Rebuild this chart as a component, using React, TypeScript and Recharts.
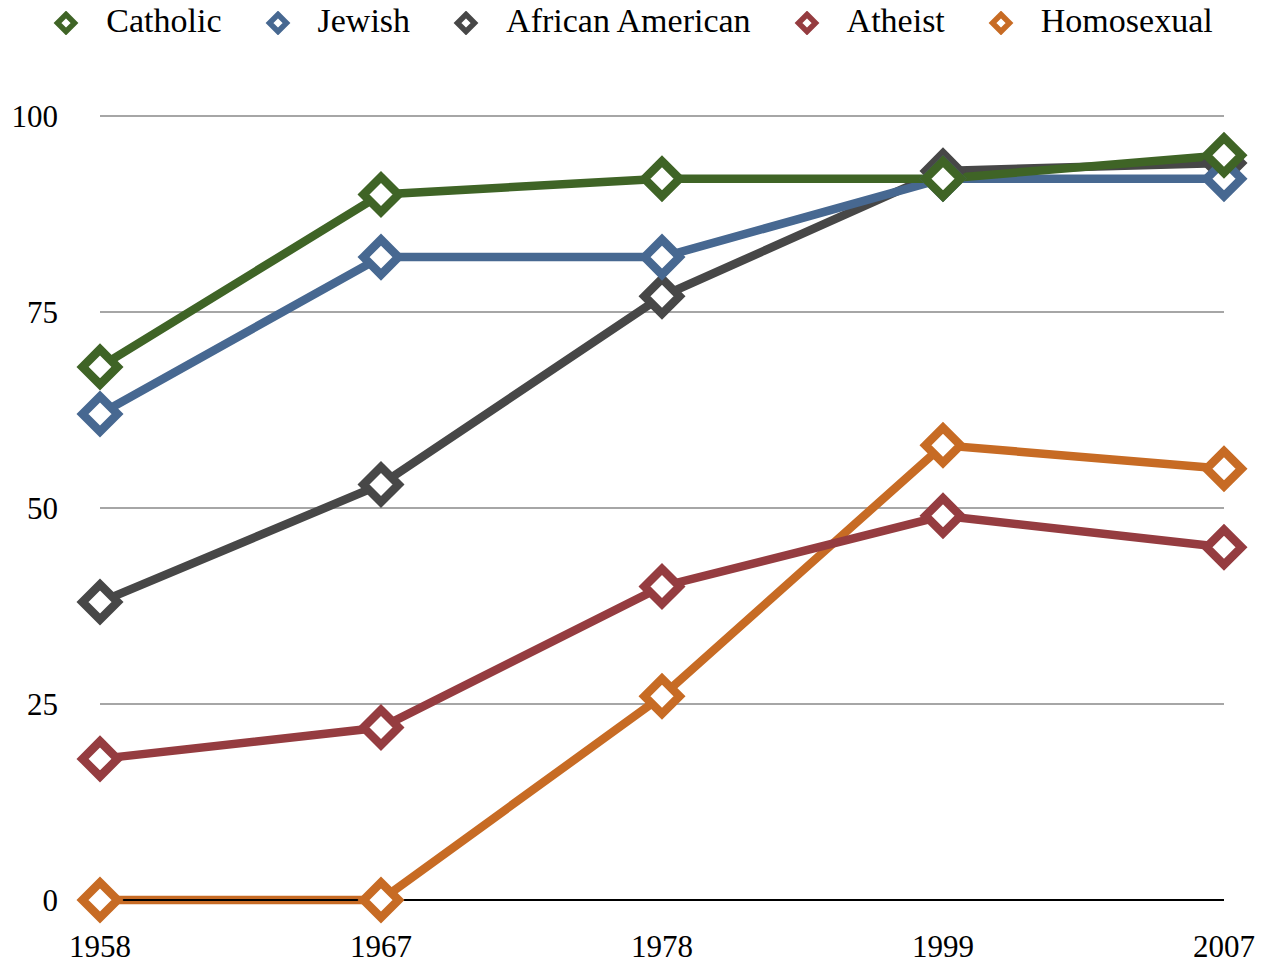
import React from 'react';
import { LineChart, Line, XAxis, YAxis, CartesianGrid } from 'recharts';

const years = ['1958', '1967', '1978', '1999', '2007'];
const catholic = [68, 90, 92, 92, 95];
const jewish = [62, 82, 82, 92, 92];
const africanAmerican = [38, 53, 77, 93, 94];
const atheist = [18, 22, 40, 49, 45];
const homosexual = [0, 0, 26, 58, 55];
const yTicks = [0, 25, 50, 75, 100];

const FONT = '"Liberation Serif", "Times New Roman", serif';

const SERIES = [
  { key: 'catholic', name: 'Catholic', color: '#3f6426', values: catholic },
  { key: 'jewish', name: 'Jewish', color: '#476891', values: jewish },
  { key: 'african', name: 'African American', color: '#474747', values: africanAmerican },
  { key: 'atheist', name: 'Atheist', color: '#953c40', values: atheist },
  { key: 'homosexual', name: 'Homosexual', color: '#c76b24', values: homosexual },
];

const data = years.map((year, i) => {
  const row: Record<string, string | number> = { year };
  SERIES.forEach((s) => {
    row[s.key] = s.values[i];
  });
  return row;
});

function diamond(cx: number, cy: number, r: number) {
  return `M${cx},${cy - r}L${cx + r},${cy}L${cx},${cy + r}L${cx - r},${cy}Z`;
}

function makeDot(color: string) {
  return (props: any) => {
    const { cx, cy, index } = props;
    if (cx == null || cy == null) return <g key={index} />;
    return (
      <path
        key={index}
        d={diamond(cx, cy, 17.5)}
        fill="#fff"
        stroke={color}
        strokeWidth={8.5}
        strokeLinejoin="miter"
      />
    );
  };
}

function LegendRow() {
  return (
    <div
      style={{
        position: 'absolute',
        top: 1,
        left: 0,
        width: 1265,
        display: 'flex',
        justifyContent: 'center',
        gap: 42,
        fontFamily: FONT,
        fontSize: 34,
        lineHeight: '40px',
        color: '#000',
      }}
    >
      {SERIES.map((s) => (
        <div key={s.key} style={{ display: 'flex', alignItems: 'center' }}>
          <svg width={28} height={24} style={{ marginRight: 26, marginTop: 3 }}>
            <path d={diamond(14, 12, 8.5)} fill="#fff" stroke={s.color} strokeWidth={5.5} />
          </svg>
          <span>{s.name}</span>
        </div>
      ))}
    </div>
  );
}

export default function App() {
  const drawOrder = [...SERIES].reverse();
  return (
    <div style={{ position: 'absolute', left: 0, top: 0, width: 1265, height: 964, background: '#fff' }}>
      <LegendRow />
      <LineChart
        width={1265}
        height={964}
        data={data}
        margin={{ top: 116, right: 41, bottom: 0, left: 0 }}
      >
        <CartesianGrid vertical={false} stroke="#a6a6a6" strokeWidth={2} />
        <XAxis
          dataKey="year"
          height={64}
          tickLine={false}
          tickSize={0}
          tickMargin={35}
          axisLine={{ stroke: '#000', strokeWidth: 2 }}
          tick={{ fill: '#000', fontSize: 31, fontFamily: FONT }}
          interval={0}
        />
        <YAxis
          width={100}
          domain={[0, 100]}
          ticks={yTicks}
          axisLine={false}
          tickLine={false}
          tickSize={0}
          tickMargin={42}
          tick={{ fill: '#000', fontSize: 31, fontFamily: FONT }}
        />
        {drawOrder.map((s) => (
          <Line
            key={s.key}
            dataKey={s.key}
            name={s.name}
            stroke={s.color}
            strokeWidth={8.5}
            type="linear"
            dot={makeDot(s.color)}
            activeDot={false}
            isAnimationActive={false}
          />
        ))}
      </LineChart>
    </div>
  );
}
